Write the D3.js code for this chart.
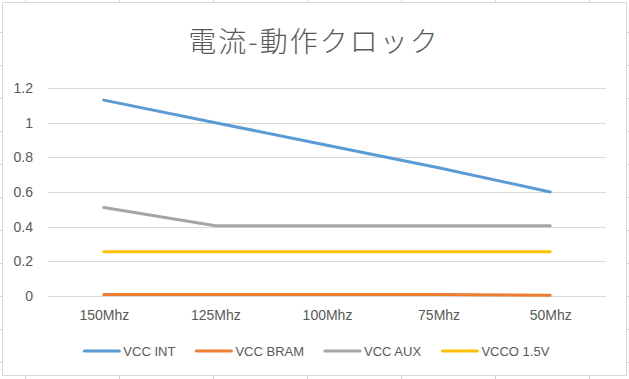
<!DOCTYPE html>
<head>
  <meta charset="utf-8">
  <title>電流-動作クロック</title>
  <script src="https://cdn.jsdelivr.net/npm/d3@7"></script>
  <style>
  body { margin: 0; background: #fff; }
  text { font-family: "Liberation Sans", Arial, sans-serif; fill: #595959; }
  .title { font-family: "Noto Sans CJK JP", sans-serif; font-weight: 300; }
  .grid line { stroke: #d9d9d9; stroke-width: 1; }
  .sheet line { stroke: #d4d4d4; stroke-width: 1; }
  </style>
</head>
<body>
<script>
var WIDTH = 629, HEIGHT = 379;

var categories = ["150Mhz", "125Mhz", "100Mhz", "75Mhz", "50Mhz"];
var seriesNames = ["VCC INT", "VCC BRAM", "VCC AUX", "VCCO 1.5V"];
var vccInt  = [1.13, 1.0, 0.87, 0.74, 0.60];
var vccBram = [0.008, 0.008, 0.008, 0.008, 0.004];
var vccAux  = [0.51, 0.405, 0.405, 0.405, 0.405];
var vcco15  = [0.256, 0.256, 0.256, 0.256, 0.256];
var yTicks = [0, 0.2, 0.4, 0.6, 0.8, 1, 1.2];
var colors = ["#5b9bd5", "#ed7d31", "#a5a5a5", "#ffc000"];
var series = [vccInt, vccBram, vccAux, vcco15];

var svg = d3.select("body").append("svg")
  .attr("width", WIDTH).attr("height", HEIGHT);

// spreadsheet cells behind the chart
var sheet = svg.append("g").attr("class", "sheet");
sheet.selectAll(".v").data(d3.range(25, WIDTH, 94)).enter().append("line")
  .attr("x1", function(d){ return d + 0.5; }).attr("x2", function(d){ return d + 0.5; })
  .attr("y1", 0).attr("y2", HEIGHT);
sheet.selectAll(".h").data(d3.range(32, HEIGHT, 33)).enter().append("line")
  .attr("y1", function(d){ return d + 0.5; }).attr("y2", function(d){ return d + 0.5; })
  .attr("x1", 0).attr("x2", WIDTH);

// chart area
svg.append("rect")
  .attr("x", 2.5).attr("y", 2.5).attr("width", 624).attr("height", 373)
  .attr("fill", "#fff").attr("stroke", "#d9d9d9");

svg.append("text").attr("class", "title")
  .attr("x", 314).attr("y", 40)
  .attr("text-anchor", "middle").attr("dominant-baseline", "central")
  .attr("font-size", 28).style("letter-spacing", "2px")
  .text("電流-動作クロック");

var x = d3.scalePoint().domain(categories).range([48, 606]).padding(0.5);
var y = d3.scaleLinear().domain([0, 1.2]).range([296, 88]);

svg.append("g").attr("class", "grid")
  .selectAll("line").data(yTicks).enter().append("line")
  .attr("x1", 48).attr("x2", 606)
  .attr("y1", function(d){ return Math.round(y(d)) + 0.5; })
  .attr("y2", function(d){ return Math.round(y(d)) + 0.5; });

var yAxis = svg.append("g").attr("transform", "translate(48,0)")
  .call(d3.axisLeft(y).tickValues(yTicks).tickSize(0).tickPadding(15)
    .tickFormat(function(d){ return String(d); }));
yAxis.select(".domain").remove();
yAxis.selectAll("text").attr("font-size", 14).attr("fill", "#595959")
  .attr("font-family", "Liberation Sans, Arial, sans-serif");

var xAxis = svg.append("g").attr("transform", "translate(0,296)")
  .call(d3.axisBottom(x).tickSize(0).tickPadding(14));
xAxis.select(".domain").remove();
xAxis.selectAll("text").attr("font-size", 14).attr("fill", "#595959")
  .attr("font-family", "Liberation Sans, Arial, sans-serif");

var line = d3.line()
  .x(function(d, i){ return x(categories[i]); })
  .y(function(d){ return y(d); });

svg.append("g").selectAll("path").data(series).enter().append("path")
  .attr("d", line)
  .attr("fill", "none")
  .attr("stroke", function(d, i){ return colors[i]; })
  .attr("stroke-width", 3)
  .attr("stroke-linecap", "round")
  .attr("stroke-linejoin", "round");

// legend
var legend = svg.append("g");
var items = legend.selectAll("g").data(seriesNames).enter().append("g");
items.append("line")
  .attr("x1", 0).attr("x2", 35).attr("y1", 0).attr("y2", 0)
  .attr("stroke", function(d, i){ return colors[i]; })
  .attr("stroke-width", 3).attr("stroke-linecap", "round");
items.append("text")
  .attr("x", 39).attr("y", 0).attr("dominant-baseline", "central")
  .attr("font-size", 13).text(function(d){ return d; });
var pos = 0, offsets = [];
items.each(function(){
  offsets.push(pos);
  pos += this.getBBox().width + 21;
});
var total = pos - 21;
var startX = 317 - total / 2;
items.attr("transform", function(d, i){ return "translate(" + (startX + offsets[i]) + ",351)"; });
</script>
</body>
